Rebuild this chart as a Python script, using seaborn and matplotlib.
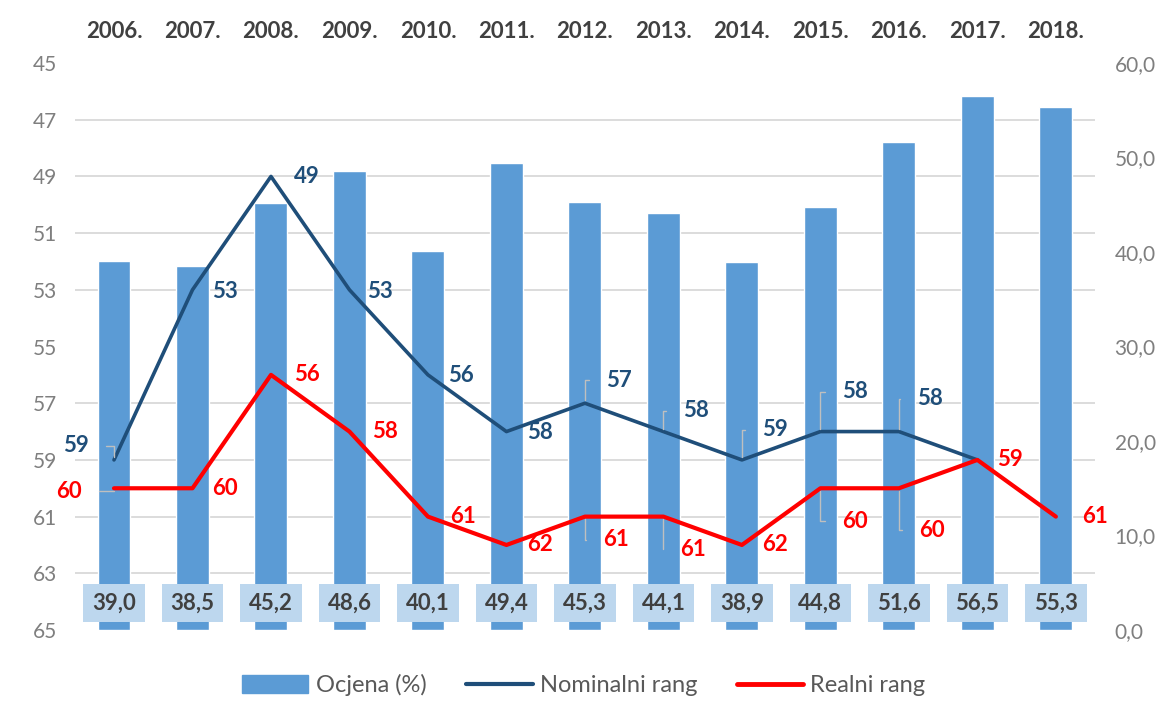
import numpy as np
import pandas as pd
import matplotlib
matplotlib.use("Agg")
import matplotlib.pyplot as plt
from matplotlib.patches import Patch
from matplotlib.lines import Line2D
import seaborn as sns

# =========================================================
# DATA
# =========================================================

years = ["2006.", "2007.", "2008.", "2009.", "2010.", "2011.", "2012.",
         "2013.", "2014.", "2015.", "2016.", "2017.", "2018."]
ocjena = [39.0, 38.5, 45.2, 48.6, 40.1, 49.4, 45.3, 44.1, 38.9, 44.8, 51.6, 56.5, 55.3]
nominalni = [59, 53, 49, 53, 56, 58, 57, 58, 59, 58, 58, 59, np.nan]
realni = [60, 60, 56, 58, 61, 62, 61, 61, 62, 60, 60, 59, 61]

rank_ticks = list(range(45, 66, 2))
score_ticks = [0, 10, 20, 30, 40, 50, 60]

# label offsets in pixels (dx right, dy down), None = no label
nom_off = [(-38, -14), (32, 2), (36, 0), (30, 2), (33, 1), (34, 1), (34, -23),
           (33, -21), (33, -30), (35, -40), (31, -33), None, None]
nom_lead = [True, False, False, False, False, False, True, True, True, True, True, False, False]
real_off = [(-45, 3), (32, 0), (36, 0), (36, 0), (35, 0), (34, 0), (31, 23),
            (30, 33), (33, 0), (35, 33), (33, 42), (33, 0), (39, 0)]
real_lead = [True, False, False, False, False, False, True, True, False, True, True, False, False]

BAR = "#5b9bd5"
NAVY = "#1f4e79"
RED = "#ff0000"
GRAY = "#7f7f7f"
DARK = "#404040"

df = pd.DataFrame({"year": years, "idx": np.arange(len(years)),
                   "ocjena": ocjena, "nom": nominalni, "real": realni})

# =========================================================
# PLOT
# =========================================================

sns.set_theme(style="white")
plt.rcParams["font.family"] = ["Lato", "DejaVu Sans"]

fig = plt.figure(figsize=(11.68, 7.22), dpi=100)
ax = fig.add_axes([0.064, 0.1274, 0.8736, 0.7853])

sns.barplot(data=df, x="year", y="ocjena", order=years, color=BAR,
            width=0.42, saturation=1, ax=ax, zorder=2)
ax.set_ylim(0, 60)
ax.set_xlim(-0.5, len(years) - 0.5)

# rank axis (drawn on top of bars)
ax2 = ax.twinx()
sns.lineplot(data=df, x="idx", y="nom", color=NAVY, lw=2.6, ax=ax2)
sns.lineplot(data=df, x="idx", y="real", color=RED, lw=3, ax=ax2)
ax2.set_ylim(65, 45)
ax2.set_xlim(-0.5, len(years) - 0.5)

# bar axis on the right, ranks on the left
ax.yaxis.tick_right()
ax.yaxis.set_label_position("right")
ax.set_yticks(score_ticks)
ax.set_yticklabels([f"{v:.1f}".replace(".", ",") for v in score_ticks],
                   color=GRAY, fontsize=15)
ax.set_yticks(np.arange(0, 61, 6), minor=True)
ax.grid(False)
ax.grid(True, which="minor", axis="y", color="#d9d9d9", lw=1.3, zorder=0)
ax.set_axisbelow(True)
ax.tick_params(axis="y", which="both", length=0, pad=14)
ax.xaxis.tick_top()
ax.tick_params(axis="x", length=0, pad=15)
for t in ax.get_xticklabels():
    t.set_fontweight("bold")
    t.set_color(DARK)
    t.set_fontsize(16)
ax.set_xlabel("")
ax.set_ylabel("")

ax2.yaxis.tick_left()
ax2.yaxis.set_label_position("left")
ax2.set_yticks(rank_ticks)
ax2.set_yticklabels([str(v) for v in rank_ticks], color=GRAY, fontsize=15)
ax2.tick_params(axis="y", length=0, pad=13)
ax2.set_ylabel("")
ax2.set_xlabel("")
ax2.grid(False)

for a in (ax, ax2):
    for s in a.spines.values():
        s.set_visible(False)

# value boxes
for i, v in enumerate(ocjena):
    ax.text(i, 2.86, f"{v:.1f}".replace(".", ","), ha="center", va="center",
            fontsize=16, fontweight="bold", color=DARK, zorder=5,
            bbox=dict(boxstyle="square,pad=0.4", fc="#bdd7ee", ec="none"))


def put_labels(vals, offs, leads, color):
    for i, (v, o, lead) in enumerate(zip(vals, offs, leads)):
        if o is None or np.isnan(v):
            continue
        dx, dy = o[0] * 0.72, -o[1] * 0.72
        ap = None
        if lead:
            ap = dict(arrowstyle="-", color="#bfbfbf", lw=1, shrinkA=10, shrinkB=2,
                      connectionstyle="angle,angleA=0,angleB=90,rad=0")
        ax2.annotate(str(int(v)), (i, v), xytext=(dx, dy), textcoords="offset points",
                     ha="center", va="center", fontsize=16, fontweight="bold",
                     color=color, arrowprops=ap, zorder=6)


put_labels(nominalni, nom_off, nom_lead, NAVY)
put_labels(realni, real_off, real_lead, RED)

handles = [Patch(color=BAR), Line2D([], [], color=NAVY, lw=3), Line2D([], [], color=RED, lw=3.5)]
fig.legend(handles, ["Ocjena (%)", "Nominalni rang", "Realni rang"],
           loc="center", bbox_to_anchor=(0.5, 0.051), ncol=3, frameon=False,
           fontsize=17, labelcolor="#595959", handlelength=2.8, handleheight=0.75,
           columnspacing=1.7, handletextpad=0.3)

fig.savefig("out.png", dpi=100)
